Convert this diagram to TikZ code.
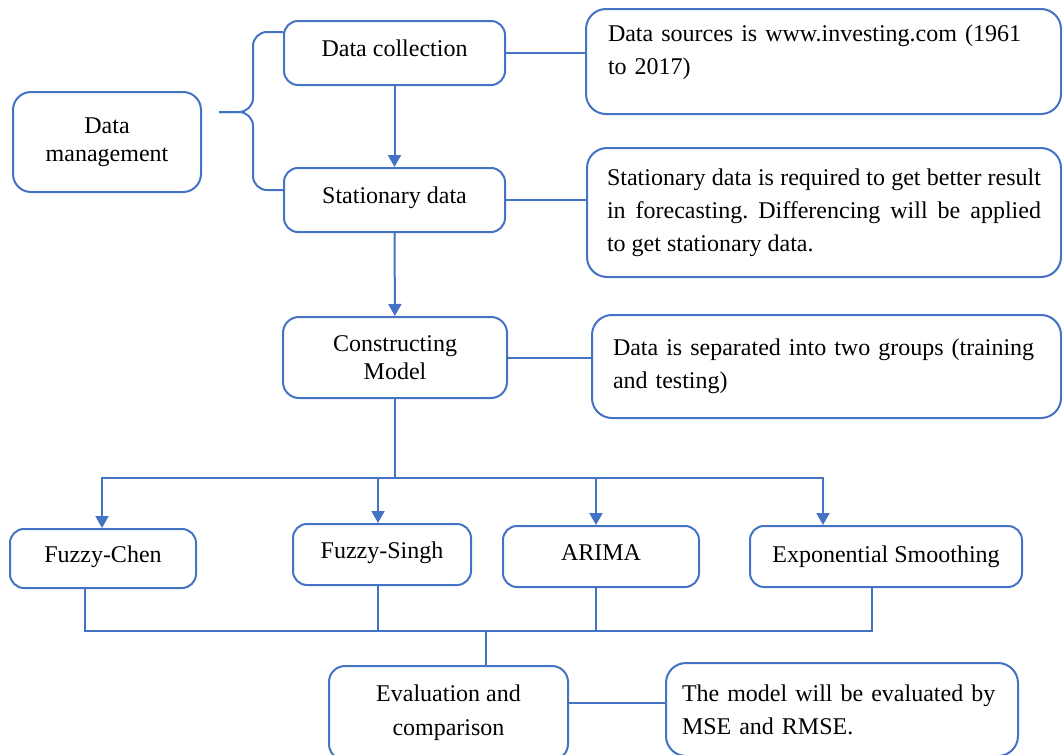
\documentclass[tikz,border=0pt]{standalone}
\usepackage{fontspec}
\setmainfont{Liberation Serif}
\usetikzlibrary{arrows.meta}
\definecolor{flowblue}{HTML}{4472C4}

\begin{document}
\frenchspacing
\begin{tikzpicture}[
  x=0.5pt, y=-0.5pt,
  every node/.style={font=\fontsize{12pt}{16.5pt}\selectfont},
  box/.style={draw=flowblue, line width=1pt, rounded corners=7pt,
    align=center, inner sep=0pt, text height=8.5pt, text depth=5pt},
  box2/.style={draw=flowblue, line width=1pt, rounded corners=8pt,
    align=center, inner sep=0pt},
  desc/.style={draw=flowblue, line width=1pt, rounded corners=10pt,
    inner ysep=0pt},
  ln/.style={flowblue, line width=1pt},
  arr/.style={ln, -{Triangle[length=6pt, width=6.5pt]}}]

\useasboundingbox (0,0) rectangle (1062,755);
\clip (0,0) rectangle (1062,755);

% --- Data management column ---
\node[box2, minimum width=94pt, minimum height=50pt, rounded corners=9pt,
  font=\fontsize{12pt}{14pt}\selectfont] (mgmt) at (107,142)
  {Data\\management};
\node[box, minimum width=110.5pt, minimum height=32pt] (coll) at (394.5,53)
  {Data collection};
\node[box, minimum width=110.5pt, minimum height=32pt] (stat) at (394.5,200)
  {Stationary data};
\node[box2, minimum width=112pt, minimum height=40.5pt,
  font=\fontsize{12pt}{14pt}\selectfont] (cons) at (395,357.5)
  {Constructing\\Model};

% --- Descriptions ---
\node[desc, inner xsep=11pt, text width=215.5pt, minimum height=52.5pt,
  align=left] (src) at (823.5,61.5)
  {Data sources is www.investing.com (1961\\to 2017)\rule[-11.5pt]{0pt}{0pt}};
\node[desc, inner xsep=10pt, text width=217pt, minimum height=64.5pt,
  align=justify] (stdesc) at (824,212.5)
  {Stationary data is required to get better result\linebreak
   in forecasting. Differencing will be applied\linebreak
   to get stationary data.};
\node[desc, inner xsep=10.5pt, text width=213.5pt, minimum height=51.5pt,
  align=left] (sepd) at (826.5,366.5)
  {Data is separated into two groups (training\\and testing)};

% --- Methods ---
\node[box, minimum width=93pt, minimum height=29.5pt] (chen) at (103,558.5)
  {Fuzzy-Chen};
\node[box, minimum width=89pt, minimum height=30.5pt] (singh) at (382,554.5)
  {Fuzzy-Singh};
\node[box, minimum width=98pt, minimum height=30.5pt] (arima) at (601,556.5)
  {ARIMA};
\node[box, minimum width=136pt, minimum height=30.5pt, text depth=3pt]
  (expo) at (886,556.5) {Exponential Smoothing};

% --- Evaluation ---
\node[box2, minimum width=119.5pt, minimum height=47pt,
  font=\fontsize{12pt}{17pt}\selectfont] (eval) at (448.5,713)
  {Evaluation and\\comparison};
\node[desc, inner xsep=8pt, text width=160pt, minimum height=46.5pt,
  align=left] (model) at (842,709.5)
  {The model will be evaluated by\\MSE and RMSE.};

% --- Brace ---
\coordinate (brT) at (coll.west |- 0,32);
\coordinate (brB) at (stat.west |- 0,190);
\coordinate (brM) at (219,112);
\draw[ln, rounded corners=7pt] (brT) -- (253,32) -- (253,112) -- (brM);
\draw[ln, rounded corners=7pt] (brB) -- (253,190) -- (253,112) -- (brM);

% --- Main flow ---
\draw[arr] (coll) -- (stat);
\draw[arr] (stat) -- (cons);
\draw[ln] (coll.east) -- (coll.east -| src.west);
\draw[ln] (stat.east) -- (stat.east -| stdesc.west);
\draw[ln] (cons.east) -- (cons.east -| sepd.west);

% --- Split to methods ---
\coordinate (bus) at (cons.south |- 0,478);
\draw[ln] (cons) -- (bus);
\foreach \x/\n in {102/chen, 378/singh, 596/arima, 823/expo} {
  \coordinate (t\n) at (\x,478);
  \draw[arr] (t\n) -- (t\n |- \n.north);
}
\draw[ln, line cap=rect] (tchen) -- (texpo);

% --- Merge to evaluation ---
\foreach \x/\n in {85/chen, 378/singh, 596/arima, 872/expo} {
  \coordinate (m\n) at (\x,631);
  \draw[ln] (m\n |- \n.south) -- (m\n);
}
\draw[ln, line cap=rect] (mchen) -- (mexpo);
\coordinate (mj) at (486,631);
\draw[ln] (mj) -- (mj |- eval.north);
\coordinate (evo) at ([yshift=5pt]eval.east);
\draw[ln] (evo) -- (evo -| model.west);

\end{tikzpicture}
\end{document}
